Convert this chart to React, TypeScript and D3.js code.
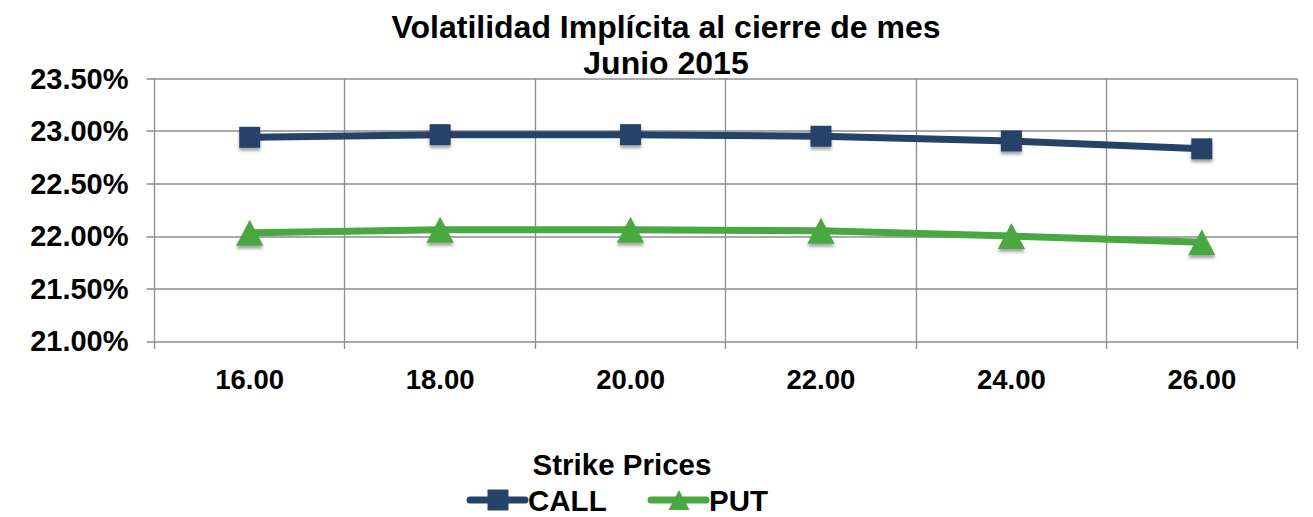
import { useEffect, useRef } from 'react';
import * as d3 from 'd3';

const strikes = ['16.00', '18.00', '20.00', '22.00', '24.00', '26.00'];
const callValues = [22.94, 22.965, 22.965, 22.95, 22.905, 22.83];
const putValues = [22.03, 22.06, 22.06, 22.05, 22.0, 21.94];
const yTicks = [21.0, 21.5, 22.0, 22.5, 23.0, 23.5];

const W = 1313;
const H = 517;
const CALL_COLOR = '#254368';
const PUT_COLOR = '#4aa842';
const GRID = '#8c8c8c';
const FONT = '"Liberation Sans", Arial, sans-serif';

// triangle centred on its mid-height, like the spreadsheet marker
const triUp = {
  draw(ctx: d3.Path, size: number) {
    const h = Math.sqrt(size);
    const w = h * 1.05;
    ctx.moveTo(0, -h / 2);
    ctx.lineTo(w / 2, h / 2);
    ctx.lineTo(-w / 2, h / 2);
    ctx.closePath();
  },
};

export default function App() {
  const svgRef = useRef<SVGSVGElement>(null);

  useEffect(() => {
    if (!svgRef.current) return;
    const svg = d3.select(svgRef.current);
    svg.selectAll('*').remove();

    const margin = { top: 78.5, right: 16, bottom: 176, left: 154.5 };
    const innerWidth = W - margin.left - margin.right;
    const innerHeight = H - margin.top - margin.bottom;

    const defs = svg.append('defs');
    const f = defs.append('filter').attr('id', 'shadow')
      .attr('x', '-50%').attr('y', '-50%').attr('width', '200%').attr('height', '200%');
    f.append('feDropShadow')
      .attr('dx', 0).attr('dy', 3).attr('stdDeviation', 1.6)
      .attr('flood-color', '#000').attr('flood-opacity', 0.35);

    const x = d3.scaleBand().domain(strikes).range([0, innerWidth]).padding(0);
    const y = d3.scaleLinear().domain([21, 23.5]).range([innerHeight, 0]);

    const g = svg.append('g').attr('transform', `translate(${margin.left},${margin.top})`);

    // horizontal gridlines
    g.append('g').selectAll('line').data(yTicks).enter().append('line')
      .attr('x1', -8).attr('x2', innerWidth)
      .attr('y1', d => Math.round(y(d)) + 0.5).attr('y2', d => Math.round(y(d)) + 0.5)
      .attr('stroke', GRID).attr('stroke-width', 1.3);

    // vertical gridlines at band boundaries
    const bounds = strikes.map(s => x(s) || 0).concat([innerWidth]);
    g.append('g').selectAll('line').data(bounds).enter().append('line')
      .attr('x1', d => Math.round(d)).attr('x2', d => Math.round(d))
      .attr('y1', 0).attr('y2', innerHeight + 8)
      .attr('stroke', GRID).attr('stroke-width', 1.3);

    // y labels
    g.append('g').selectAll('text').data(yTicks).enter().append('text')
      .attr('x', -26).attr('y', d => y(d))
      .attr('dy', '0.36em')
      .attr('text-anchor', 'end')
      .attr('font-family', FONT).attr('font-weight', 'bold').attr('font-size', 29)
      .text(d => d.toFixed(2) + '%');

    // x labels
    g.append('g').selectAll('text').data(strikes).enter().append('text')
      .attr('x', d => (x(d) || 0) + x.bandwidth() / 2).attr('y', innerHeight + 48)
      .attr('text-anchor', 'middle')
      .attr('font-family', FONT).attr('font-weight', 'bold').attr('font-size', 27.5)
      .text(d => d);

    const cx = (d: string) => (x(d) || 0) + x.bandwidth() / 2;
    const line = d3.line<number>().x((_, i) => cx(strikes[i])).y(d => y(d));

    g.append('path').datum(callValues)
      .attr('fill', 'none').attr('stroke', CALL_COLOR).attr('stroke-width', 7)
      .attr('stroke-linejoin', 'round').attr('d', line);
    g.append('path').datum(putValues)
      .attr('fill', 'none').attr('stroke', PUT_COLOR).attr('stroke-width', 7)
      .attr('stroke-linejoin', 'round').attr('d', line);

    const sq = d3.symbol().type(d3.symbolSquare).size(21 * 21);
    const tri = d3.symbol().type(triUp as d3.SymbolType).size(26 * 26);

    g.append('g').selectAll('path').data(callValues).enter().append('path')
      .attr('d', sq).attr('fill', CALL_COLOR).attr('filter', 'url(#shadow)')
      .attr('transform', (d, i) => `translate(${cx(strikes[i])},${y(d)})`);
    g.append('g').selectAll('path').data(putValues).enter().append('path')
      .attr('d', tri).attr('fill', PUT_COLOR).attr('filter', 'url(#shadow)')
      .attr('transform', (d, i) => `translate(${cx(strikes[i])},${y(d)})`);

    // title
    const title = svg.append('text')
      .attr('text-anchor', 'middle')
      .attr('font-family', FONT).attr('font-weight', 'bold').attr('font-size', 32);
    title.append('tspan').attr('x', 666).attr('y', 38).text('Volatilidad Implícita al cierre de mes');
    title.append('tspan').attr('x', 666).attr('y', 74).text('Junio 2015');

    // axis title
    svg.append('text')
      .attr('x', 622).attr('y', 475).attr('text-anchor', 'middle')
      .attr('font-family', FONT).attr('font-weight', 'bold').attr('font-size', 29.5)
      .text('Strike Prices');

    // legend
    const legendItems = [
      { label: 'CALL', color: CALL_COLOR, sym: sq, x0: 470 },
      { label: 'PUT', color: PUT_COLOR, sym: d3.symbol().type(triUp as d3.SymbolType).size(20 * 20), x0: 651 },
    ];
    const lg = svg.append('g');
    legendItems.forEach(it => {
      const ly = 500;
      lg.append('line')
        .attr('x1', it.x0).attr('x2', it.x0 + 55).attr('y1', ly).attr('y2', ly)
        .attr('stroke', it.color).attr('stroke-width', 7).attr('stroke-linecap', 'round');
      lg.append('path').attr('d', it.sym).attr('fill', it.color)
        .attr('transform', `translate(${it.x0 + 28},${ly})`);
      lg.append('text')
        .attr('x', it.x0 + 58).attr('y', 511)
        .attr('font-family', FONT).attr('font-weight', 'bold').attr('font-size', 29.5)
        .text(it.label);
    });
  }, []);

  return <svg ref={svgRef} width={W} height={H} style={{ display: 'block', position: 'absolute', left: 0, top: 0 }} />;
}
